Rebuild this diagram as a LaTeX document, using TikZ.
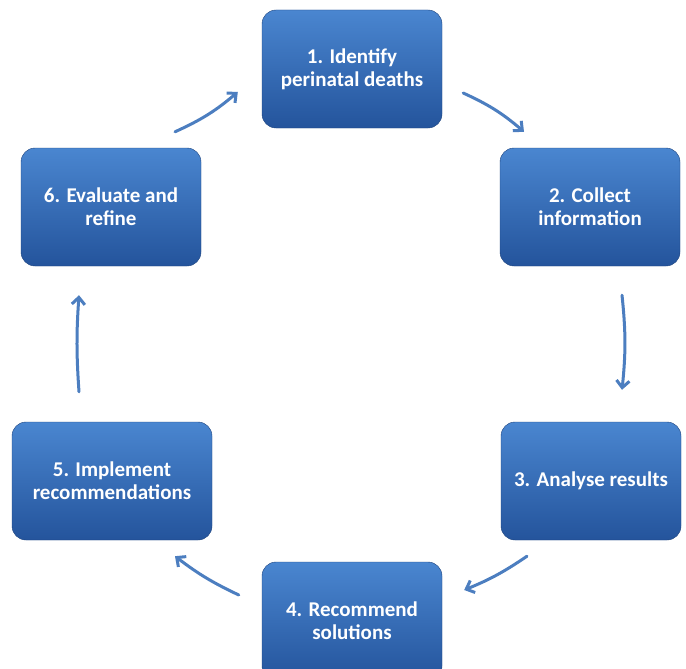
\documentclass[tikz,border=0pt]{standalone}
\usepackage{fontspec}
\setmainfont{Carlito}
\usepackage{tikz}
\usetikzlibrary{arrows.meta}
\usetikzlibrary{positioning}
\definecolor{blocktop}{RGB}{74,134,208}
\definecolor{blockbot}{RGB}{36,84,156}
\definecolor{arrowblue}{RGB}{76,126,192}
\tikzset{auto, >={Straight Barb[length=7pt,width=13pt]}, x=1pt, y=-1pt, font=\bfseries\fontsize{21}{23}\selectfont}
\tikzstyle{block} = [draw=blockbot!80!black, line width=0.4pt, top color=blocktop, bottom color=blockbot, rounded corners=14pt, minimum width=180pt, minimum height=118pt, text=white, align=center]
\tikzstyle{flow} = [->, draw=arrowblue, line width=3pt, line cap=round]

\begin{document}
\begin{tikzpicture}
    \clip (0,0) rectangle (686,669);
    \fill [white] (0,0) rectangle (686,669);
    \node [block] (identify) at (352,69) {1. Identify\\perinatal deaths};
    \node [block] (collect) at (590,207) {2. Collect\\information};
    \node [block] (analyse) at (591,481) {3. Analyse results};
    \node [block] (recommend) at (352,621) {4. Recommend\\solutions};
    \node [block, minimum width=200pt] (implement) at (112,481) {5. Implement\\recommendations};
    \node [block] (evaluate) at (111,207) {6. Evaluate and\\refine};

    \draw [flow] ([xshift=21pt,yshift=-24pt]identify.east) to [bend left=8] ([xshift=-66pt,yshift=16pt]collect.north);
    \draw [flow] ([xshift=32pt,yshift=-29pt]collect.south) to [bend left=6] ([xshift=31pt,yshift=32pt]analyse.north);
    \draw [flow] ([xshift=-64pt,yshift=-16pt]analyse.south) to [bend left=6] ([xshift=22pt,yshift=31pt]recommend.east);
    \draw [flow] ([xshift=-23pt,yshift=26pt]recommend.west) to [bend left=6] ([xshift=63pt,yshift=-16pt]implement.south);
    \draw [flow] ([xshift=-33pt,yshift=30pt]implement.north) to [bend left=4] ([xshift=-32pt,yshift=-29pt]evaluate.south);
    \draw [flow] ([xshift=64pt,yshift=16pt]evaluate.north) to [bend right=8] ([xshift=-24pt,yshift=-23pt]identify.west);
\end{tikzpicture}
\end{document}
